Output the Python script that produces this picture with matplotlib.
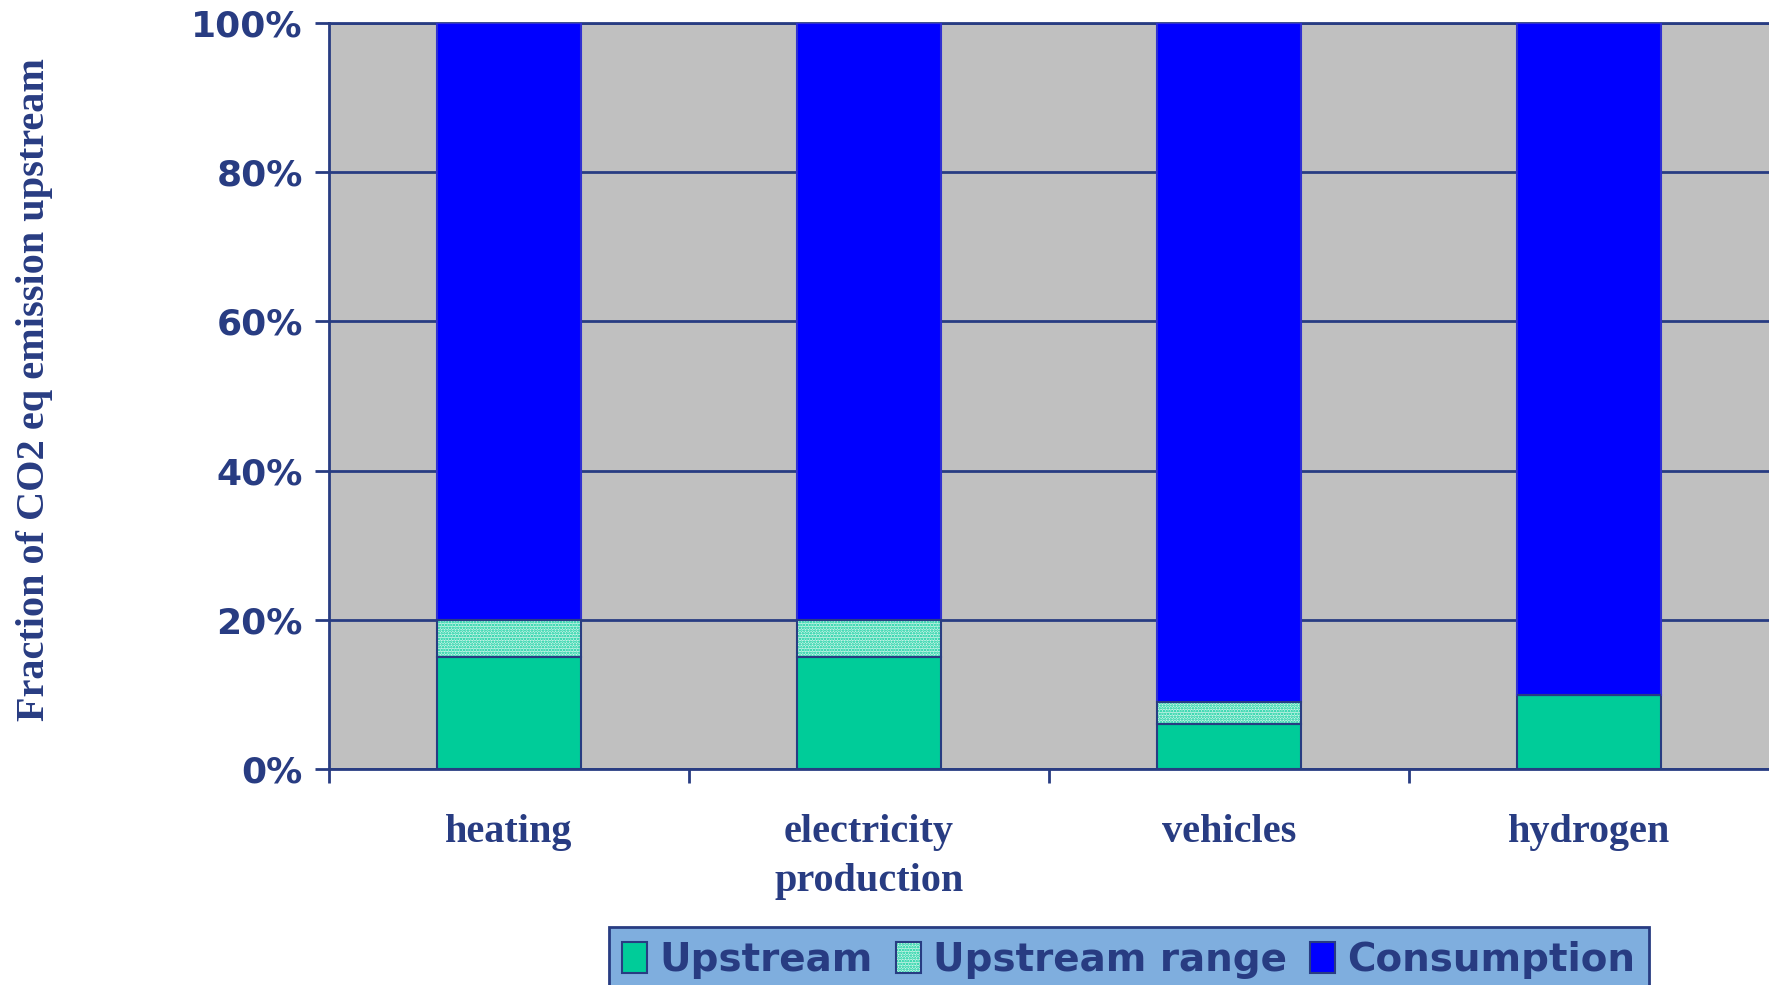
import matplotlib.pyplot as plt
from matplotlib.patches import Patch
import numpy as np

# Data (fractions of total)
categories = ["heating", "electricity\nproduction", "vehicles", "hydrogen"]
upstream = [0.15, 0.15, 0.06, 0.10]
upstream_range = [0.05, 0.05, 0.03, 0.0]
consumption = [0.80, 0.80, 0.91, 0.90]
yticks = [0, 0.2, 0.4, 0.6, 0.8, 1.0]
ytick_labels = ["0%", "20%", "40%", "60%", "80%", "100%"]

navy = "#283C82"
teal = "#00CC99"
blue = "#0000FF"
gray = "#C0C0C0"
plt.rcParams["hatch.linewidth"] = 1.2

fig = plt.figure(figsize=(17.69, 9.85), dpi=100)
ax = fig.add_axes([0.186, 0.219, 0.814, 0.758])
ax.set_facecolor(gray)

x = np.arange(len(categories))
w = 0.4
up = np.array(upstream)
rg = np.array(upstream_range)
cons = np.array(consumption)

ax.bar(x, up, w, color=teal, edgecolor=navy, linewidth=1.5, zorder=3)
ax.bar(x, rg, w, bottom=up, color="#C8F4E8", edgecolor=teal, hatch="......",
       linewidth=0, zorder=3)
ax.bar(x, rg, w, bottom=up, fill=False, edgecolor=navy, linewidth=1.5, zorder=4)
ax.bar(x, cons, w, bottom=up + rg, color=blue, edgecolor="#3030D0",
       linewidth=1.5, zorder=3)

ax.set_xlim(-0.5, 3.5)
ax.set_ylim(0, 1)
ax.set_yticks(yticks)
ax.set_yticklabels(ytick_labels, fontsize=26, fontweight="bold", color=navy)
ax.yaxis.grid(True, color=navy, linewidth=2, zorder=1)
ax.set_axisbelow(True)

ax.set_xticks([-0.5, 0.5, 1.5, 2.5])
ax.set_xticklabels([])
ax.set_xticks(x, minor=True)
ax.set_xticklabels(categories, minor=True, fontsize=29, fontweight="bold",
                   family="Liberation Serif", color=navy, linespacing=1.45)
ax.tick_params(axis="x", which="minor", length=0, pad=32)
ax.tick_params(axis="both", which="major", length=10, width=2, color=navy,
               direction="out")
ax.tick_params(axis="y", pad=9)

ax.spines["right"].set_visible(False)
for s in ["left", "bottom", "top"]:
    ax.spines[s].set_color(navy)
    ax.spines[s].set_linewidth(2)

ax.set_ylabel("Fraction of CO2 eq emission upstream", fontsize=29,
              fontweight="bold", family="Liberation Serif", color=navy)
ax.yaxis.set_label_coords(-0.192, 0.509)

handles = [
    Patch(facecolor=teal, edgecolor=navy, linewidth=1.5),
    (Patch(facecolor="#C8F4E8", edgecolor=teal, hatch="......", linewidth=0),
     Patch(fill=False, edgecolor=navy, linewidth=1.5)),
    Patch(facecolor=blue, edgecolor=navy, linewidth=1.5),
]
leg = fig.legend(handles, ["Upstream", "Upstream range", "Consumption"],
                 loc="upper left", bbox_to_anchor=(0.344, 0.0586), ncol=3,
                 borderaxespad=0, frameon=True, fancybox=False,
                 facecolor="#7FAEDE", edgecolor=navy, framealpha=1,
                 handlelength=0.65, handleheight=0.85, handletextpad=0.3,
                 columnspacing=0.6, borderpad=0.35,
                 prop={"size": 28, "weight": "bold"})
leg.get_frame().set_linewidth(2)
for t in leg.get_texts():
    t.set_color(navy)

fig.savefig("out.png", dpi=100)
